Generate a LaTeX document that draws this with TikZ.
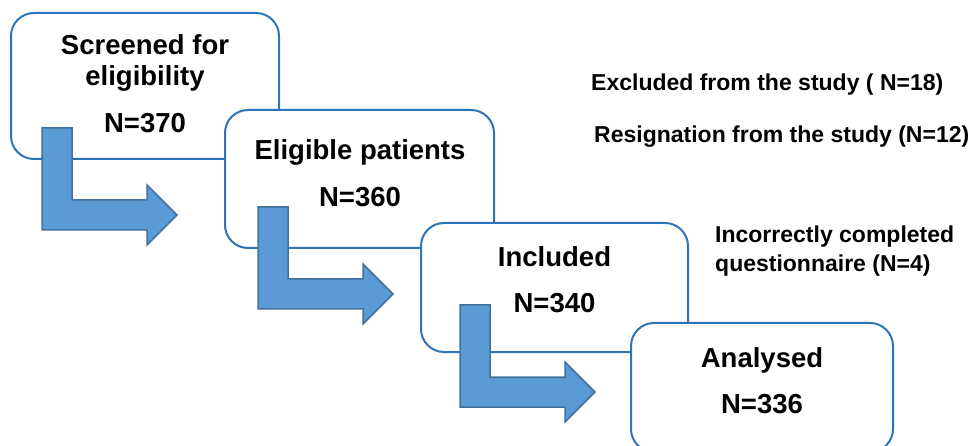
\documentclass[tikz,border=0pt]{standalone}
\usepackage{fontspec}
\setmainfont{Liberation Sans}
\usetikzlibrary{positioning}

\definecolor{boxblue}{RGB}{46,117,182}
\definecolor{arrowfill}{RGB}{91,155,213}
\definecolor{arrowline}{RGB}{65,113,156}

\begin{document}
\begin{tikzpicture}[x=1pt,y=-1pt,
    box/.style={draw=boxblue, line width=2pt, fill=white, rounded corners=23pt, inner sep=0pt},
    boxtxt/.style={anchor=base, inner sep=0pt, font=\fontsize{27.5}{31}\selectfont\bfseries},
    sidetxt/.style={anchor=base west, inner sep=0pt, font=\fontsize{23}{28}\selectfont\bfseries},
    bent/.style={fill=arrowfill, draw=arrowline, line width=1.5pt, line join=miter}]
       \useasboundingbox (0,0) rectangle (972,446);
       \clip (0,0) rectangle (972,446);

       % the four stages, each one lying over the one before
       \node[box, minimum width=268pt, minimum height=146pt] (screened) at (145,86) {};
       \node[box, minimum width=269pt, minimum height=138pt] (eligible) at (359.5,179) {};
       \node[box, minimum width=267pt, minimum height=129pt] (included) at (554.5,287.5) {};
       \node[box, minimum width=262pt, minimum height=129pt] (analysed) at (762,387.5) {};

       \node[boxtxt] (screened_a) at (145,55) {Screened for};
       \node[boxtxt] (screened_b) at (145,86) {eligibility};
       \node[boxtxt] (screened_n) at (145,133) {N=370};
       \node[boxtxt] (eligible_a) at (360,160) {Eligible patients};
       \node[boxtxt] (eligible_n) at (360,207) {N=360};
       \node[boxtxt] (included_a) at (554.5,267) {Included};
       \node[boxtxt] (included_n) at (554.5,313) {N=340};
       \node[boxtxt] (analysed_a) at (762,367) {Analysed};
       \node[boxtxt] (analysed_n) at (762,413) {N=336};

       % bent arrows
       \foreach \ax/\ay in {42/230, 258/309, 460/407}
         \draw[bent] (\ax,\ay) -- ++(0,-102) -- ++(30,0) -- ++(0,72) -- ++(75,0)
           -- ++(0,-15) -- ++(30,30) -- ++(-30,30) -- ++(0,-15) -- cycle;

       % losses
       \node[sidetxt] (excluded) at (591,91) {Excluded from the study ( N=18)};
       \node[sidetxt] (resigned) at (594,143) {Resignation from the study (N=12)};
       \node[sidetxt] (incorrect_a) at (715,243) {Incorrectly completed};
       \node[sidetxt] (incorrect_b) at (715,272) {questionnaire (N=4)};
     \end{tikzpicture}
\end{document}
